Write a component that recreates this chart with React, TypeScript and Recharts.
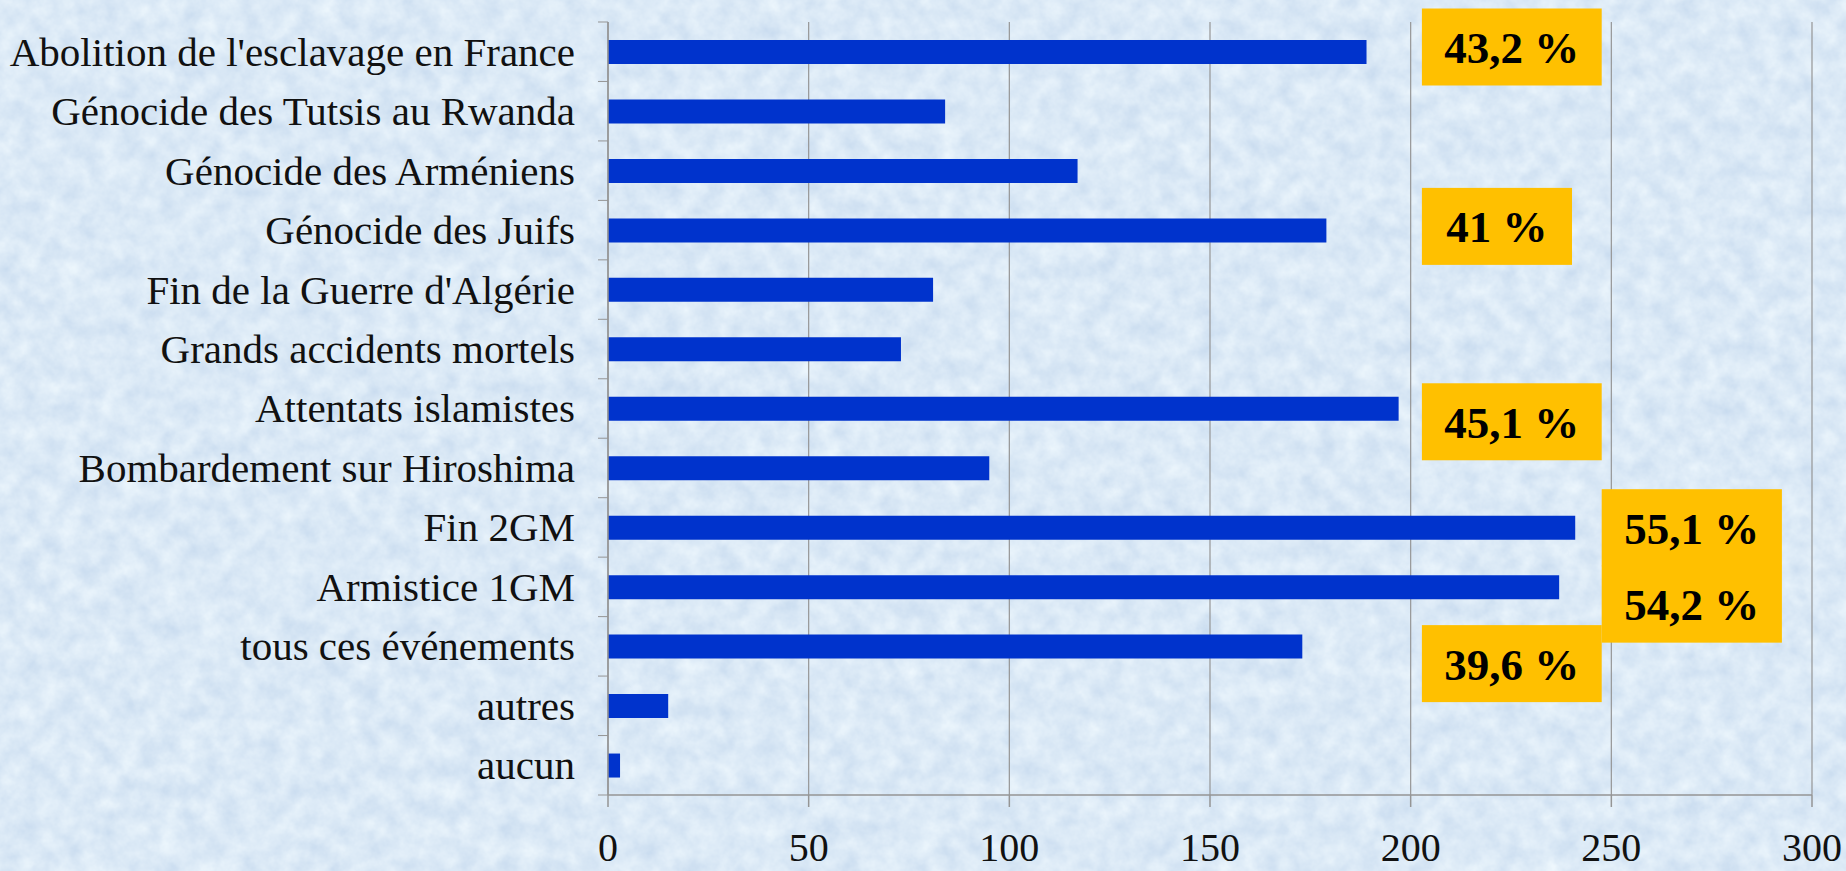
import React from "react"
import { BarChart, Bar, XAxis, YAxis, CartesianGrid, LabelList } from "recharts"

const categories = [
  "Abolition de l'esclavage en France",
  "Génocide des Tutsis au Rwanda",
  "Génocide des Arméniens",
  "Génocide des Juifs",
  "Fin de la Guerre d'Algérie",
  "Grands accidents mortels",
  "Attentats islamistes",
  "Bombardement sur Hiroshima",
  "Fin 2GM",
  "Armistice 1GM",
  "tous ces événements",
  "autres",
  "aucun",
]
const counts = [189, 84, 117, 179, 81, 73, 197, 95, 241, 237, 173, 15, 3]
const notes = ["43,2 %", "", "", "41 %", "", "", "45,1 %", "", "55,1 %", "54,2 %", "39,6 %", "", ""]
const xTicks = [0, 50, 100, 150, 200, 250, 300]

const data = categories.map((name, i) => ({ name, count: counts[i], note: notes[i] }))

// where the yellow boxes sit: x span in axis units, vertical shift from the bar centre in px
const noteBox: Record<string, { from: number; to: number; dy: number }> = {
  "43,2 %": { from: 202.8, to: 247.6, dy: -5 },
  "41 %": { from: 202.8, to: 240.2, dy: -4 },
  "45,1 %": { from: 202.8, to: 247.6, dy: 13 },
  "55,1 %": { from: 247.6, to: 292.5, dy: 0 },
  "54,2 %": { from: 247.6, to: 292.5, dy: 17 },
  "39,6 %": { from: 202.8, to: 247.6, dy: 17 },
}

const W = 1846
const H = 871
const TOP = 22
const X_AXIS_H = 76
const PLOT_H = H - TOP - X_AXIS_H
const Y_TICK_SIZE = 10
const Y_TICK_MARGIN = 23
const SERIF = "'Liberation Serif', 'Times New Roman', serif"
const GRID = "#959595"

const CategoryTick = (props: any) => {
  const { x, y, payload, index } = props
  const half = payload.offset ?? PLOT_H / categories.length / 2
  const axisX = x + Y_TICK_SIZE + Y_TICK_MARGIN
  return (
    <g>
      <line x1={axisX - Y_TICK_SIZE} x2={axisX} y1={y - half} y2={y - half} stroke={GRID} />
      {index === categories.length - 1 && (
        <line x1={axisX - Y_TICK_SIZE} x2={axisX} y1={y + half} y2={y + half} stroke={GRID} />
      )}
      <text x={x} y={y} dy="0.34em" textAnchor="end" fontFamily={SERIF} fontSize={41} fill="#111">
        {payload.value}
      </text>
    </g>
  )
}

const renderNote = (props: any) => {
  const { x, y, width, height, index } = props
  const text = notes[index]
  if (!text) return null
  const box = noteBox[text]
  const perUnit = width / counts[index]
  const left = x + box.from * perUnit
  const right = x + box.to * perUnit
  const cy = y + height / 2 + box.dy
  const bh = 77
  return (
    <g>
      <rect x={left} y={cy - bh / 2} width={right - left} height={bh} fill="#FFC000" />
      <text
        x={(left + right) / 2}
        y={cy + 16}
        textAnchor="middle"
        fontFamily={SERIF}
        fontWeight="bold"
        fontSize={45}
        fill="#000"
      >
        {text}
      </text>
    </g>
  )
}

// light blue paper texture behind the chart
const Paper = () => (
  <svg width={W} height={H} style={{ position: "absolute", left: 0, top: 0 }}>
    <filter id="paper" colorInterpolationFilters="sRGB">
      <feTurbulence type="fractalNoise" baseFrequency="0.05" numOctaves={4} seed={7} />
      <feColorMatrix
        type="matrix"
        values="0.16 0 0 0 0.78  0.12 0 0 0 0.855  0.06 0 0 0 0.935  0 0 0 0 1"
      />
    </filter>
    <rect width={W} height={H} filter="url(#paper)" />
  </svg>
)

export default function App() {
  return (
    <div style={{ position: "fixed", left: 0, top: 0, width: W, height: H, background: "#d9e8f7" }}>
      <Paper />
      <div style={{ position: "absolute", left: 0, top: 0 }}>
        <BarChart
          width={W}
          height={H}
          data={data}
          layout="vertical"
          margin={{ top: TOP, right: 34, left: 0, bottom: 0 }}
          barSize={24}
        >
          <CartesianGrid horizontal={false} stroke={GRID} strokeWidth={1.2} />
          <XAxis
            type="number"
            domain={[0, 300]}
            ticks={xTicks}
            interval={0}
            height={X_AXIS_H}
            tickSize={12}
            tickMargin={26}
            axisLine={{ stroke: GRID, strokeWidth: 1.5 }}
            tickLine={{ stroke: GRID, strokeWidth: 1.5 }}
            tick={{ fontFamily: SERIF, fontSize: 40, fill: "#111" }}
          />
          <YAxis
            type="category"
            dataKey="name"
            width={608}
            interval={0}
            tickSize={Y_TICK_SIZE}
            tickMargin={Y_TICK_MARGIN}
            tickLine={false}
            axisLine={{ stroke: GRID, strokeWidth: 1.5 }}
            tick={<CategoryTick />}
          />
          <Bar dataKey="count" fill="#0033CC" isAnimationActive={false}>
            <LabelList dataKey="note" content={renderNote} />
          </Bar>
        </BarChart>
      </div>
    </div>
  )
}
